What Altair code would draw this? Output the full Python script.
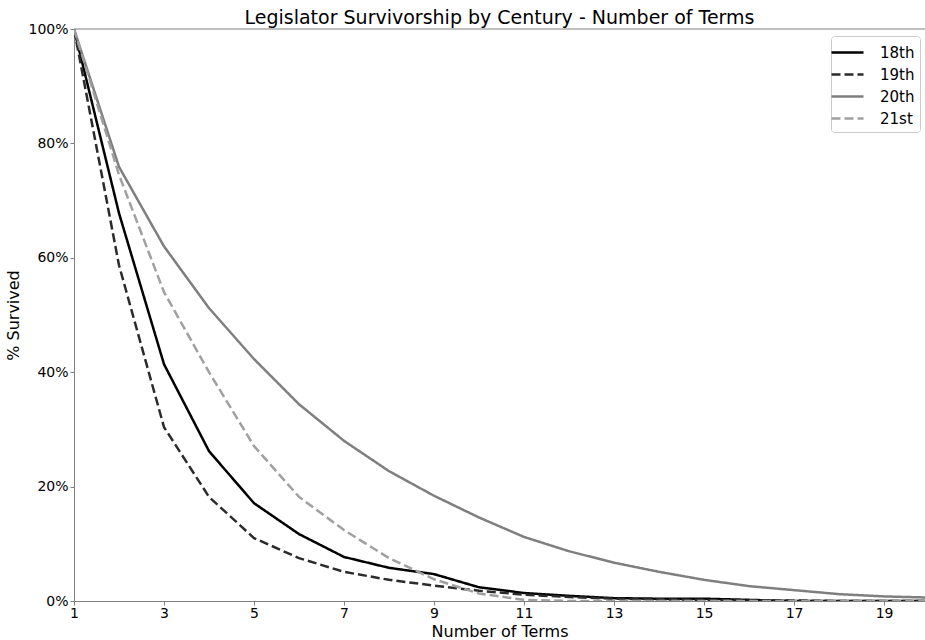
import altair as alt
import pandas as pd

terms = list(range(1, 21))
c18 = [1.0, 0.678, 0.414, 0.262, 0.171, 0.117, 0.077, 0.058, 0.047, 0.024, 0.014, 0.009, 0.005, 0.004, 0.004, 0.002, 0.0, 0.0, 0.0, 0.0]
c19 = [1.0, 0.587, 0.304, 0.182, 0.110, 0.075, 0.051, 0.037, 0.027, 0.018, 0.011, 0.007, 0.004, 0.003, 0.002, 0.001, 0.001, 0.0, 0.0, 0.0]
c20 = [1.0, 0.759, 0.620, 0.512, 0.423, 0.344, 0.280, 0.227, 0.184, 0.146, 0.112, 0.087, 0.067, 0.051, 0.037, 0.026, 0.019, 0.012, 0.008, 0.006]
c21 = [1.0, 0.745, 0.540, 0.400, 0.271, 0.182, 0.124, 0.075, 0.038, 0.013, 0.002, 0.0, 0.0, 0.0, 0.0, 0.0, 0.0, 0.0, 0.0, 0.0]
centuries = ["18th", "19th", "20th", "21st"]
colors = ["#000000", "#2b2b2b", "#7f7f7f", "#a0a0a0"]
dashes = [[1, 0], [9, 4], [1, 0], [9, 4]]

rows = []
for name, vals in zip(centuries, [c18, c19, c20, c21]):
    for t, v in zip(terms, vals):
        rows.append({"term": t, "pct": v, "century": name})
df = pd.DataFrame(rows)

FONT = "DejaVu Sans"

def legend():
    return alt.Legend(title=None, orient="none", legendX=757, legendY=7,
                      symbolType="M-1.6,0H1.6", symbolSize=400, symbolStrokeWidth=2.5,
                      labelFontSize=15, labelFont=FONT, labelColor="#000000",
                      strokeColor="#cccccc", cornerRadius=3, padding=5,
                      rowPadding=2, fillColor="white", labelOffset=21)

lines = alt.Chart(df).mark_line(strokeWidth=2.5, clip=True).encode(
    x=alt.X("term:Q", scale=alt.Scale(domain=[1, 19.91], nice=False, zero=False),
            axis=alt.Axis(values=[1, 3, 5, 7, 9, 11, 13, 15, 17, 19], title="Number of Terms",
                          grid=False, tickSize=4, labelFontSize=14, titleFontSize=16,
                          titleFontWeight="normal", titlePadding=3, labelPadding=1,
                          domainColor="#808080", tickColor="#808080", labelColor="#000000",
                          labelFont=FONT, titleFont=FONT, labelFlush=False)),
    y=alt.Y("pct:Q", scale=alt.Scale(domain=[0, 1], nice=False),
            axis=alt.Axis(values=[0, 0.2, 0.4, 0.6, 0.8, 1.0], format=".0%", title="% Survived",
                          grid=False, tickSize=4, labelFontSize=14, titleFontSize=16,
                          titleFontWeight="normal", titlePadding=6, labelPadding=2,
                          domainColor="#808080", tickColor="#808080", labelColor="#000000",
                          labelFont=FONT, titleFont=FONT)),
    color=alt.Color("century:N", scale=alt.Scale(domain=centuries, range=colors), legend=legend()),
    strokeDash=alt.StrokeDash("century:N", scale=alt.Scale(domain=centuries, range=dashes),
                              legend=legend()),
)

top = alt.Chart(pd.DataFrame({"y": [1.0]})).mark_rule(color="#808080", strokeWidth=1.2).encode(
    y=alt.Y("y:Q", scale=alt.Scale(domain=[0, 1])),
    x=alt.value(0), x2=alt.value(851)
)

chart = alt.layer(lines, top).properties(
    width=851, height=572,
    title=alt.Title("Legislator Survivorship by Century - Number of Terms", fontSize=19,
                    font=FONT, fontWeight="normal", color="#000000", offset=4, dy=10),
    autosize=alt.AutoSizeParams(type="none"),
    padding={"left": 74, "top": 29, "right": 0, "bottom": 39},
).configure_view(stroke=None)

chart.save("out.html", embed_options={"renderer": "svg", "actions": False})
